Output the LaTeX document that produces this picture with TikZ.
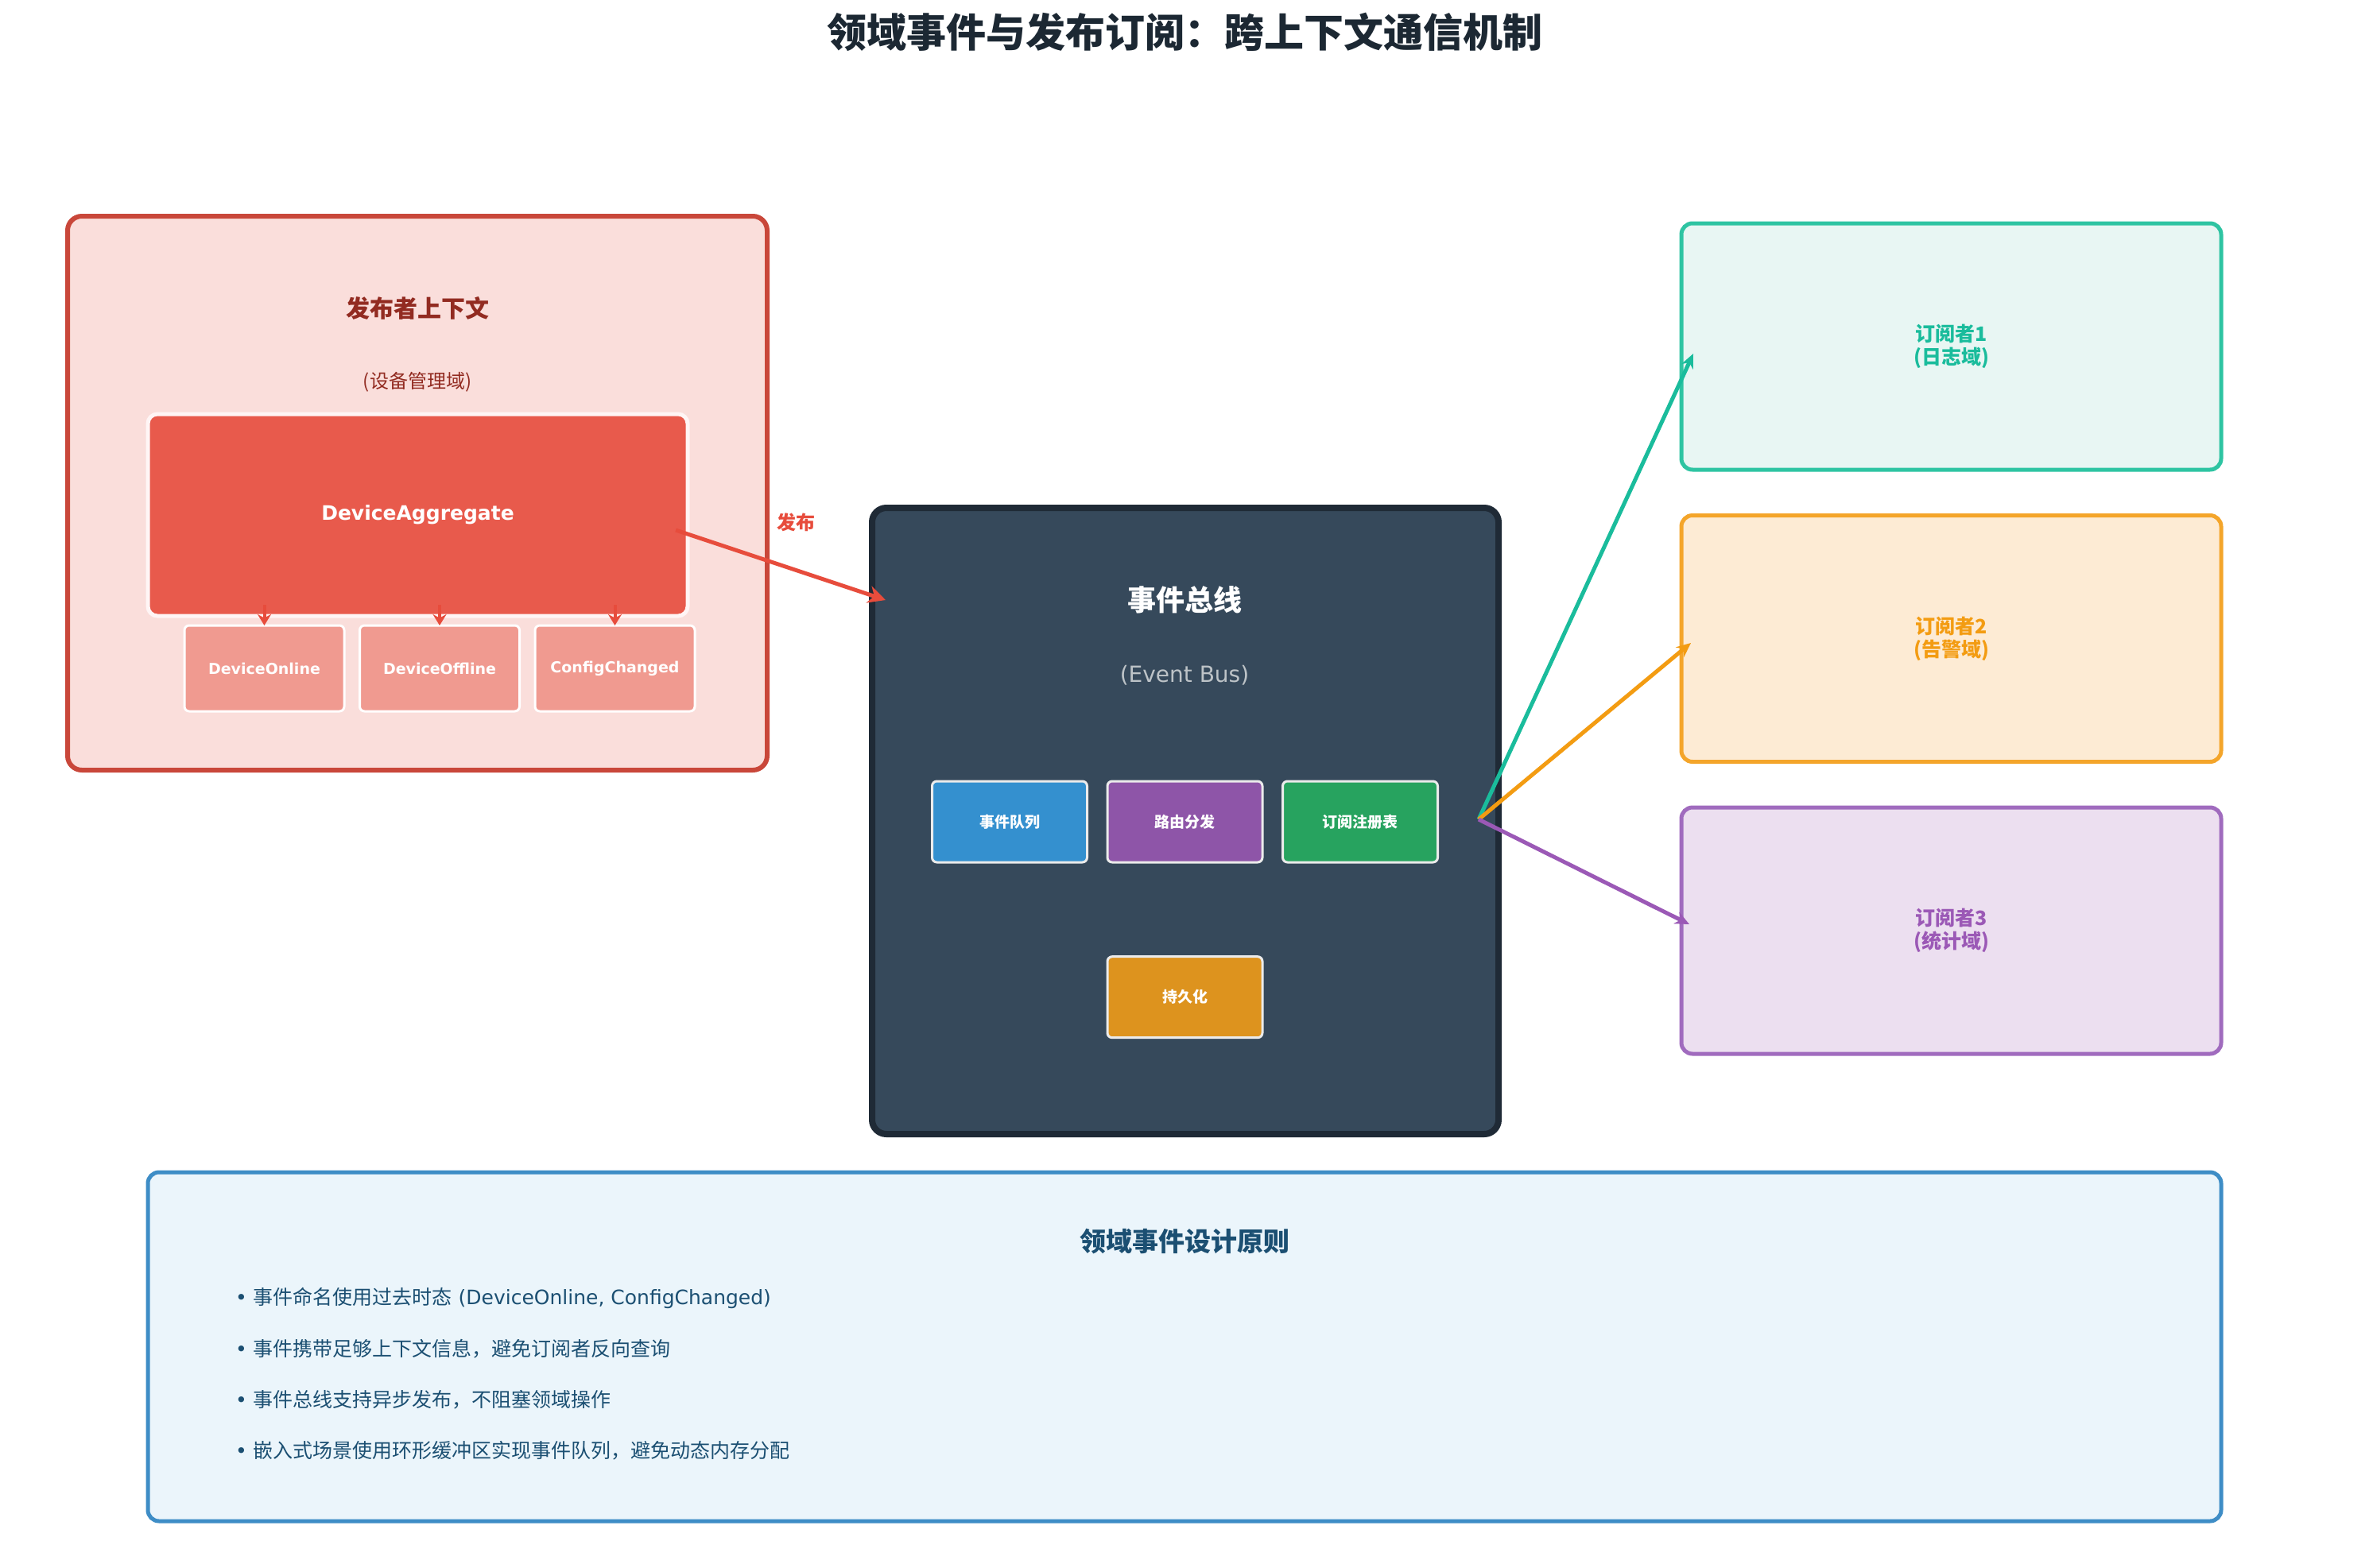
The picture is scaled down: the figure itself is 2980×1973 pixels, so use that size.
\documentclass[tikz,border=0pt]{standalone}
\usepackage{fontspec}
\setmainfont{DejaVu Sans}
\newfontfamily\cjk{Noto Sans CJK SC}
\usetikzlibrary{arrows.meta}
\newcommand\fsz[2]{\fontsize{#1}{#2}\selectfont}
\definecolor{titlec}{HTML}{1C2833}
\definecolor{pubfill}{HTML}{FADEDB}
\definecolor{pubborder}{HTML}{C9473A}
\definecolor{pubtext}{HTML}{922B21}
\definecolor{aggfill}{HTML}{E85A4C}
\definecolor{evfill}{HTML}{F09A90}
\definecolor{red1}{HTML}{E74C3C}
\definecolor{busfill}{HTML}{36495B}
\definecolor{busborder}{HTML}{1F2A36}
\definecolor{busgray}{HTML}{BDC3C7}
\definecolor{qblue}{HTML}{3490CF}
\definecolor{rpurple}{HTML}{8E55A8}
\definecolor{ggreen}{HTML}{27A35F}
\definecolor{porange}{HTML}{DD931E}
\definecolor{tealb}{HTML}{2EC4A2}
\definecolor{tealt}{HTML}{1ABC9C}
\definecolor{tealf}{HTML}{E8F6F3}
\definecolor{orab}{HTML}{F4A52A}
\definecolor{orat}{HTML}{F39C12}
\definecolor{oraf}{HTML}{FDEBD4}
\definecolor{purb}{HTML}{A06BBE}
\definecolor{purt}{HTML}{9B59B6}
\definecolor{purf}{HTML}{ECDFF0}
\definecolor{botfill}{HTML}{EBF5FB}
\definecolor{botborder}{HTML}{3E8DC6}
\definecolor{bottext}{HTML}{1B4F72}
\tikzset{
  plain/.style={inner sep=0pt, outer sep=0pt},
  evbox/.style={plain, fill=evfill, draw=white, line width=3pt, rounded corners=6pt,
    minimum width=201pt, minimum height=108pt, text=white, font=\bfseries\fsz{19}{23}},
  busitem/.style={plain, draw=white!92!black, line width=3pt, rounded corners=6pt,
    minimum width=195pt, minimum height=102pt, text=white, font=\cjk\bfseries\fsz{19}{23}},
  subbox/.style={plain, line width=5pt, rounded corners=14pt,
    minimum width=679pt, minimum height=310pt, align=center, font=\cjk\bfseries\fsz{25}{29}},
  smallarrow/.style={draw=red1, line width=4pt, -{Stealth[length=14pt,width=17pt]}},
  subarrow/.style={line width=5pt, -{Stealth[length=18pt,width=16pt]}},
  bullet/.style={plain, anchor=west, text=bottext, font=\fsz{25}{30}},
}
\begin{document}
\begin{tikzpicture}[x=1pt,y=-1pt]
\useasboundingbox[fill=white] (0,0) rectangle (2980,1973);

\node[plain, text=titlec, font=\cjk\bfseries\fsz{50}{58}] (title) at (1490,40) {领域事件与发布订阅：跨上下文通信机制};

% publisher context
\node[plain, draw=pubborder, fill=pubfill, line width=6pt, rounded corners=18pt,
  minimum width=880pt, minimum height=697pt] (pub) at (525,620.5) {};
\node[plain, text=pubtext, font=\cjk\bfseries\fsz{30}{36}] (pubt) at (525,388) {发布者上下文};
\node[plain, text=pubtext, font=\cjk\fsz{24}{28}] (pubs) at (525,481) {(设备管理域)};
\node[plain, fill=aggfill, draw=white!96!red, line width=5pt, rounded corners=12pt,
  minimum width=679pt, minimum height=254pt, text=white, font=\bfseries\fsz{25}{30}] (agg) at (525.5,648) {DeviceAggregate};
\node[evbox] (ev1) at (332.5,841) {DeviceOnline};
\node[evbox] (ev2) at (553,841) {DeviceOffline};
\node[evbox] (ev3) at (773.5,841) {ConfigChanged};
\foreach \e in {ev1,ev2,ev3}{
  \draw[smallarrow] ([yshift=26pt]\e.north) -- (\e.north);
}

% event bus
\node[plain, draw=busborder, fill=busfill, line width=8pt, rounded corners=18pt,
  minimum width=788pt, minimum height=788pt] (bus) at (1491,1033) {};
\node[plain, text=white, font=\cjk\bfseries\fsz{36}{42}] (bust) at (1490,755) {事件总线};
\node[plain, text=busgray, font=\fsz{28}{33}] (buss) at (1490,850) {(Event Bus)};
\node[busitem, fill=qblue] (q) at (1270,1034) {事件队列};
\node[busitem, fill=rpurple] (r) at (1490.5,1034) {路由分发};
\node[busitem, fill=ggreen] (g) at (1711,1034) {订阅注册表};
\node[busitem, fill=porange] (p) at (1490.5,1254.7) {持久化};

% publish arrow
\coordinate (pubstart) at (850,667);
\coordinate (pubend) at (1114,755);
\draw[draw=red1, line width=5pt, -{Stealth[length=22pt,width=22pt]}] (pubstart) -- (pubend);
\node[plain, text=red1, font=\cjk\bfseries\fsz{24}{28}] (publbl) at (1001,657) {发布};

% subscribers
\node[subbox, draw=tealb, fill=tealf, text=tealt] (s1) at (2454.5,436) {订阅者1\\(日志域)};
\node[subbox, draw=orab, fill=oraf, text=orat] (s2) at (2454.5,803.5) {订阅者2\\(告警域)};
\node[subbox, draw=purb, fill=purf, text=purt] (s3) at (2454.5,1171) {订阅者3\\(统计域)};

\coordinate (busout) at (1860,1031);
\coordinate (t1) at (2130,445);
\coordinate (t2) at (2127,809);
\coordinate (t3) at (2125,1163);
\draw[subarrow, draw=tealt] (busout) -- (t1);
\draw[subarrow, draw=orat] (busout) -- (t2);
\draw[subarrow, draw=purt] (busout) -- (t3);

% bottom principles
\node[plain, draw=botborder, fill=botfill, line width=5pt, rounded corners=14pt,
  minimum width=2608pt, minimum height=439pt] (bot) at (1490,1694.5) {};
\node[plain, text=bottext, font=\cjk\bfseries\fsz{33}{39}] (bott) at (1490,1562) {领域事件设计原则};
\node[bullet] (b1) at (296,1633) {• {\cjk 事件命名使用过去时态} (DeviceOnline, ConfigChanged)};
\node[bullet] (b2) at (296,1697) {• {\cjk 事件携带足够上下文信息，避免订阅者反向查询}};
\node[bullet] (b3) at (296,1761) {• {\cjk 事件总线支持异步发布，不阻塞领域操作}};
\node[bullet] (b4) at (296,1825) {• {\cjk 嵌入式场景使用环形缓冲区实现事件队列，避免动态内存分配}};
\end{tikzpicture}
\end{document}
